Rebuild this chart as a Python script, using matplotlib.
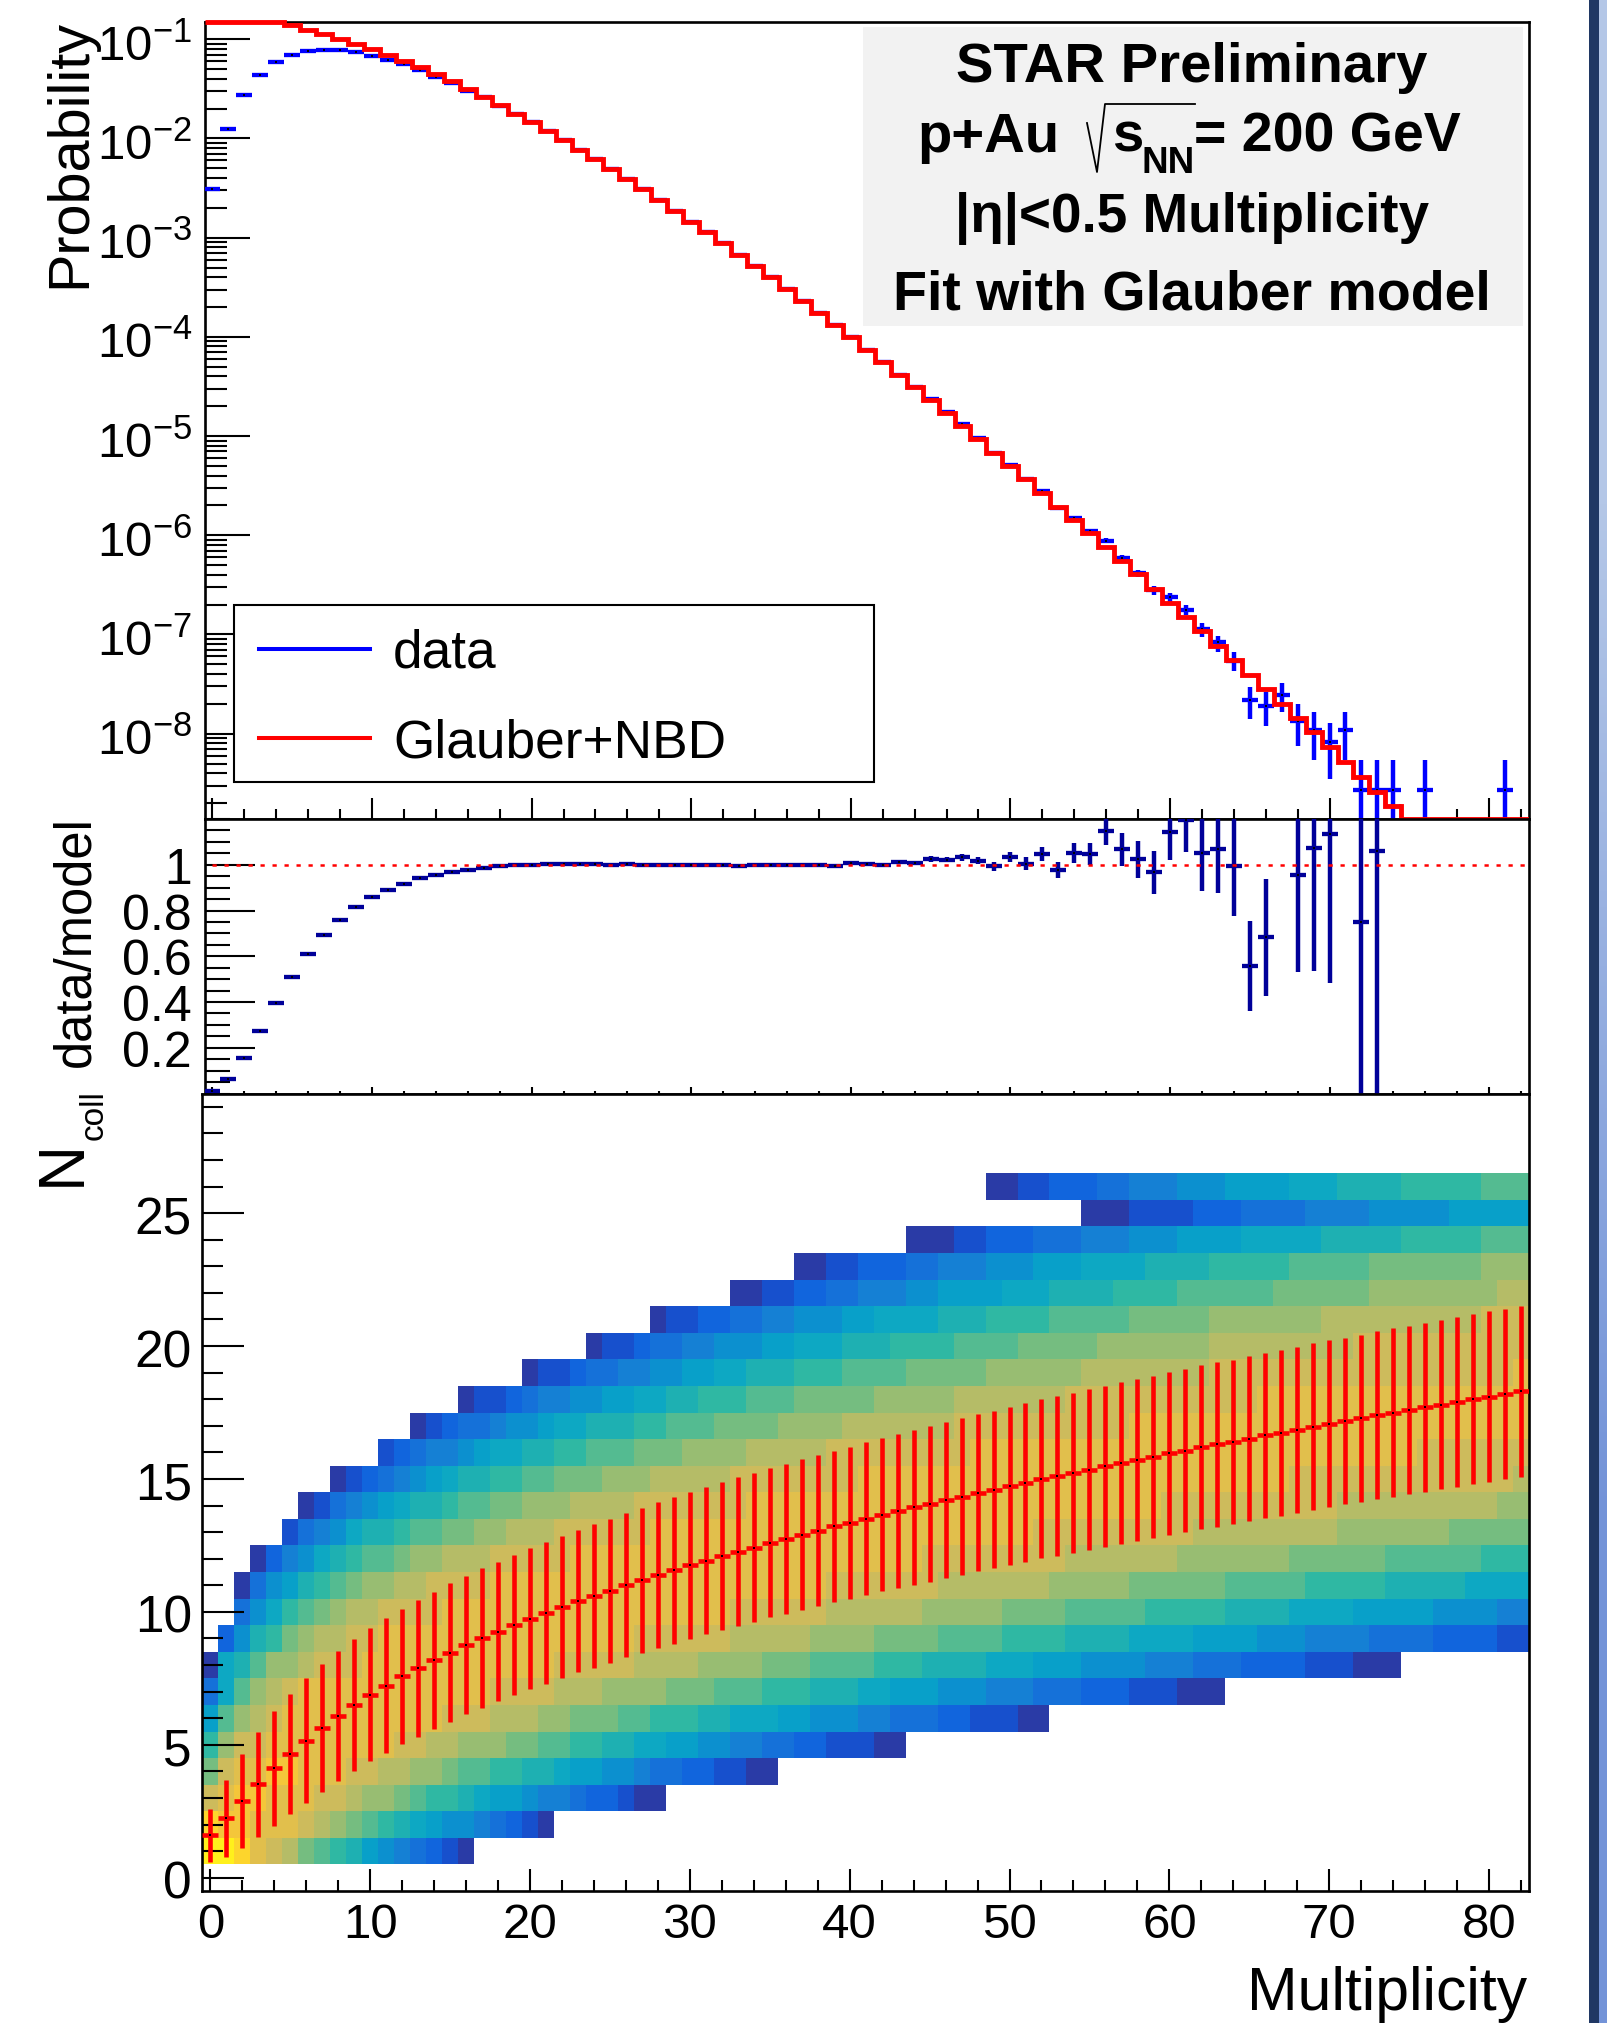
import numpy as np
import matplotlib
matplotlib.use('Agg')
import matplotlib.pyplot as plt
from matplotlib.colors import ListedColormap, LinearSegmentedColormap
from matplotlib.lines import Line2D
from matplotlib.patches import Rectangle
from matplotlib.ticker import LogLocator, MultipleLocator, NullFormatter
from matplotlib.transforms import ScaledTranslation

plt.rcParams['font.family'] = ['Liberation Sans', 'DejaVu Sans']
plt.rcParams['mathtext.fontset'] = 'custom'
plt.rcParams['mathtext.rm'] = 'Liberation Sans'
plt.rcParams['mathtext.bf'] = 'Liberation Sans:bold'

W, H = 1608, 2023

nan = float('nan')

# log10 of probability, one per multiplicity bin 0..82
data_log = [-2.51, -1.904, -1.56, -1.357, -1.232, -1.158, -1.118, -1.108, -1.111, -1.131,
            -1.165, -1.206, -1.252, -1.313, -1.377, -1.444, -1.518, -1.585, -1.669, -1.752,
            -1.838, -1.922, -2.018, -2.113, -2.21, -2.31, -2.41, -2.513, -2.62, -2.728,
            -2.84, -2.946, -3.056, -3.171, -3.29, -3.40, -3.52, -3.635, -3.756, -3.88,
            -4.004, -4.132, -4.253, -4.38, -4.506, -4.625, -4.755, -4.881, -5.021, -5.17,
            -5.287, -5.434, -5.551, -5.722, -5.824, -5.96, -6.055, -6.228, -6.383, -6.552,
            -6.627, -6.753, -6.94, -7.08, -7.271, -7.66, -7.717, -7.609, -7.869, -7.959,
            -8.085, -7.959, -8.563, -8.563, -8.563, nan, -8.563, nan, nan, nan,
            nan, -8.563, nan]

# error bar ends for bins 50..82 (log10), -10 means down to the axis
data_hi_log = [-5.276, -5.422, -5.538, -5.706, -5.806, -5.939, -6.032, -6.198, -6.348, -6.508,
               -6.58, -6.699, -6.886, -7.016, -7.181, -7.53, -7.581, -7.487, -7.703, -7.786,
               -7.89, -7.786, -8.265, -8.265, -8.265, nan, -8.265, nan, nan, nan,
               nan, -8.265, nan]
data_lo_log = [-5.296, -5.446, -5.564, -5.738, -5.842, -5.981, -6.078, -6.258, -6.418, -6.598,
               -6.674, -6.803, -7.023, -7.174, -7.372, -7.847, -7.926, -7.782, -8.121, -8.261,
               -8.455, -8.261, -10, -10, -10, nan, -10, nan, nan, nan,
               nan, -10, nan]

model_log = [-0.62, -0.70, -0.75, -0.79, -0.81, -0.856, -0.906, -0.947, -0.994, -1.044,
             -1.095, -1.155, -1.219, -1.282, -1.347, -1.42, -1.498, -1.579, -1.666, -1.75,
             -1.837, -1.921, -2.018, -2.113, -2.21, -2.31, -2.41, -2.513, -2.62, -2.728,
             -2.84, -2.946, -3.056, -3.171, -3.29, -3.40, -3.52, -3.635, -3.756, -3.88,
             -4.004, -4.132, -4.253, -4.384, -4.509, -4.636, -4.764, -4.895, -5.029, -5.167,
             -5.301, -5.436, -5.571, -5.712, -5.846, -5.98, -6.115, -6.256, -6.393, -6.537,
             -6.681, -6.825, -6.969, -7.113, -7.257, -7.408, -7.552, -7.696, -7.84, -7.988,
             -8.135, -8.286, -8.434, -8.585, -8.733]

ratio = [0.013, 0.063, 0.155, 0.273, 0.395, 0.51, 0.61, 0.692, 0.76, 0.815,
         0.857, 0.891, 0.917, 0.94, 0.956, 0.969, 0.978, 0.987, 0.993, 0.997,
         0.9985, 1.0015, 1.0015, 1.003, 1.0015, 1.0, 1.0015, 0.997, 0.9985, 0.9985,
         0.9985, 0.9985, 0.997, 0.996, 0.9985, 1.0, 1.0, 1.0, 0.9985, 0.993,
         1.006, 1.0015, 1.0, 1.01, 1.007, 1.025, 1.022, 1.032, 1.018, 0.993,
         1.033, 1.005, 1.047, 0.977, 1.051, 1.047, 1.147, 1.067, 1.023, 0.967,
         1.142, 1.197, 1.05, 1.07, 0.995, 0.557, 0.682, nan, 0.956, 1.073,
         1.133, nan, 0.75, 1.058]
# error for bins 43..73, the ones before are thinner than the marker
ratio_err = [0.005, 0.006, 0.012, 0.012, 0.015, 0.016, 0.02, 0.023, 0.028, 0.031,
             0.036, 0.044, 0.05, 0.06, 0.073, 0.082, 0.095, 0.123, 0.14, 0.164,
             0.193, 0.22, 0.196, 0.256, nan, 0.427, 0.537, 0.652, nan, 0.75,
             1.06]

ncoll_mean = [1.59, 2.24, 2.89, 3.52, 4.11, 4.65, 5.16, 5.64, 6.08, 6.49,
              6.88, 7.23, 7.57, 7.88, 8.18, 8.47, 8.75, 9.01, 9.26, 9.51,
              9.74, 9.96, 10.19, 10.4, 10.6, 10.8, 11.0, 11.19, 11.38, 11.56,
              11.75, 11.92, 12.10, 12.27, 12.42, 12.60, 12.75, 12.91, 13.06, 13.22,
              13.36, 13.51, 13.65, 13.79, 13.93, 14.06, 14.20, 14.34, 14.48, 14.60,
              14.74, 14.86, 15.0, 15.12, 15.23, 15.35, 15.48, 15.60, 15.71, 15.83,
              15.96, 16.06, 16.19, 16.30, 16.40, 16.52, 16.64, 16.73, 16.85, 16.97,
              17.07, 17.18, 17.28, 17.39, 17.50, 17.60, 17.70, 17.80, 17.90, 18.0,
              18.10, 18.20, 18.30]
ncoll_sd = [1.0, 1.45, 1.77, 1.98, 2.15, 2.26, 2.34, 2.40, 2.44, 2.48,
            2.50, 2.53, 2.55, 2.57, 2.58, 2.60, 2.61, 2.63, 2.63, 2.64,
            2.66, 2.66, 2.68, 2.68, 2.70, 2.71, 2.71, 2.73, 2.74, 2.75,
            2.76, 2.77, 2.78, 2.79, 2.80, 2.81, 2.83, 2.84, 2.85, 2.85,
            2.86, 2.87, 2.88, 2.89, 2.91, 2.92, 2.93, 2.94, 2.95, 2.96,
            2.97, 2.98, 2.99, 3.0, 3.01, 3.02, 3.03, 3.04, 3.04, 3.05,
            3.06, 3.07, 3.08, 3.09, 3.09, 3.10, 3.11, 3.12, 3.12, 3.13,
            3.14, 3.14, 3.15, 3.16, 3.16, 3.17, 3.18, 3.18, 3.19, 3.19,
            3.20, 3.20, 3.21]

# colour levels of the 2d histogram, low to high
palette = ['#2a3ba6', '#1750cd', '#1165dd', '#1571d9', '#1580d4', '#0c90cf', '#08a0c9',
           '#0da8c3', '#1eb0b2', '#2fb8a3', '#54bb91', '#75bd80', '#98bd72', '#b5bc67',
           '#cdbb5c', '#e1bf4c', '#f4c63a', '#fdd52c', '#fff01c']

# each Ncoll row: (first multiplicity bin, level) for every run of equal colour
row_01 = [(0, 18), (2, 17), (3, 15), (4, 14), (5, 13), (6, 11), (7, 10), (8, 9), (9, 8), (10, 6),
          (11, 5), (12, 4), (13, 3), (14, 2), (15, 1), (16, 0)]
row_02 = [(0, 17), (1, 16), (3, 15), (6, 14), (7, 13), (8, 12), (9, 11), (10, 10), (11, 9), (12, 8),
          (13, 7), (14, 6), (15, 5), (17, 4), (18, 3), (19, 2), (20, 1), (21, 0)]
row_03 = [(0, 14), (1, 15), (2, 16), (4, 15), (7, 14), (9, 13), (10, 12), (12, 11), (13, 10), (14, 9),
          (16, 8), (17, 7), (18, 6), (20, 5), (21, 4), (23, 3), (24, 2), (26, 1), (27, 0)]
row_04 = [(0, 11), (1, 14), (2, 15), (4, 16), (6, 15), (9, 14), (11, 13), (13, 12), (15, 11), (16, 10),
          (18, 9), (20, 8), (22, 7), (23, 6), (25, 5), (27, 4), (28, 3), (30, 2), (32, 1), (34, 0)]
row_05 = [(0, 9), (1, 12), (2, 14), (4, 15), (12, 14), (14, 13), (16, 12), (19, 11), (21, 10), (23, 9),
          (25, 8), (27, 7), (29, 6), (31, 5), (33, 4), (35, 3), (37, 2), (39, 1), (42, 0)]
row_06 = [(0, 6), (1, 10), (2, 12), (3, 13), (4, 14), (5, 15), (15, 14), (18, 13), (21, 12), (23, 11),
          (26, 10), (28, 9), (31, 8), (33, 7), (36, 6), (38, 5), (41, 4), (43, 3), (46, 2), (48, 1), (51, 0)]
row_07 = [(0, 3), (1, 7), (2, 10), (3, 12), (4, 13), (5, 14), (6, 15), (18, 14), (22, 13), (25, 12),
          (29, 11), (32, 10), (35, 9), (38, 8), (41, 7), (43, 6), (46, 5), (49, 4), (52, 3), (55, 2),
          (58, 1), (61, 0)]
row_08 = [(0, 0), (1, 7), (2, 8), (3, 10), (4, 12), (6, 13), (7, 14), (10, 15), (22, 14), (27, 13),
          (31, 12), (35, 11), (38, 10), (42, 9), (45, 8), (49, 7), (52, 6), (55, 5), (59, 4), (62, 3),
          (65, 2), (69, 1), (72, 0)]
row_09 = [(1, 2), (2, 5), (3, 8), (4, 9), (5, 11), (6, 12), (7, 13), (9, 14), (11, 15), (27, 14),
          (33, 13), (38, 12), (42, 11), (46, 10), (50, 9), (54, 8), (58, 7), (62, 6), (66, 5), (69, 4),
          (73, 3), (77, 2), (81, 1)]
row_10 = [(2, 3), (3, 5), (4, 7), (5, 9), (6, 10), (7, 11), (8, 12), (9, 13), (11, 14), (15, 15),
          (33, 14), (39, 13), (45, 12), (50, 11), (54, 10), (59, 9), (64, 8), (68, 7), (72, 6), (77, 5),
          (81, 4)]
row_11 = [(2, 0), (3, 3), (4, 5), (5, 6), (6, 8), (7, 9), (8, 10), (9, 11), (10, 12), (12, 13),
          (14, 14), (18, 15), (39, 14), (46, 13), (53, 12), (58, 11), (64, 10), (69, 9), (74, 8), (79, 7)]
row_12 = [(3, 0), (4, 2), (5, 4), (6, 5), (7, 7), (8, 8), (9, 9), (10, 10), (12, 11), (13, 12),
          (15, 13), (18, 14), (23, 15), (45, 14), (54, 13), (61, 12), (68, 11), (74, 10), (80, 9)]
row_13 = [(5, 1), (6, 3), (7, 4), (8, 5), (9, 7), (10, 8), (12, 9), (13, 10), (15, 11), (17, 12),
          (19, 13), (22, 14), (28, 15), (52, 14), (62, 13), (71, 12), (78, 11)]
row_14 = [(6, 0), (7, 1), (8, 3), (9, 4), (10, 5), (11, 6), (12, 7), (13, 8), (15, 9), (16, 10),
          (18, 11), (20, 12), (23, 13), (27, 14), (34, 15), (60, 14), (71, 13), (81, 12)]
row_15 = [(8, 0), (9, 1), (10, 2), (11, 3), (12, 4), (13, 5), (14, 6), (15, 7), (16, 8), (18, 9),
          (20, 10), (22, 11), (25, 12), (28, 13), (33, 14), (41, 15), (68, 14), (82, 13)]
row_16 = [(11, 1), (12, 2), (13, 3), (14, 4), (16, 5), (17, 6), (18, 7), (20, 8), (22, 9), (24, 10),
          (27, 11), (30, 12), (34, 13), (39, 14), (48, 15), (76, 14)]
row_17 = [(13, 0), (14, 1), (15, 2), (16, 3), (18, 4), (19, 5), (21, 6), (22, 7), (24, 8), (27, 9),
          (29, 10), (32, 11), (36, 12), (40, 13), (47, 14), (58, 15)]
row_18 = [(16, 0), (17, 1), (19, 2), (20, 3), (21, 4), (23, 5), (25, 6), (27, 7), (29, 8), (31, 9),
          (34, 10), (37, 11), (42, 12), (47, 13), (54, 14), (66, 15)]
row_19 = [(20, 0), (21, 1), (23, 2), (24, 3), (26, 4), (28, 5), (30, 6), (32, 7), (34, 8), (37, 9),
          (40, 10), (44, 11), (49, 12), (55, 13), (63, 14), (82, 15)]
row_20 = [(24, 0), (25, 1), (27, 2), (28, 3), (30, 4), (32, 5), (35, 6), (37, 7), (40, 8), (43, 9),
          (47, 10), (51, 11), (56, 12), (63, 13), (72, 14)]
row_21 = [(28, 0), (29, 1), (31, 2), (33, 3), (35, 4), (37, 5), (40, 6), (42, 7), (46, 8), (49, 9),
          (53, 10), (58, 11), (63, 12), (70, 13), (80, 14)]
row_22 = [(33, 0), (35, 1), (37, 2), (39, 3), (41, 4), (44, 5), (46, 6), (50, 7), (53, 8), (57, 9),
          (61, 10), (67, 11), (73, 12), (81, 13)]
row_23 = [(37, 0), (39, 1), (41, 2), (44, 3), (46, 4), (49, 5), (52, 6), (55, 7), (59, 8), (63, 9),
          (68, 10), (73, 11), (80, 12)]
row_24 = [(44, 0), (47, 1), (49, 2), (52, 3), (55, 4), (58, 5), (61, 6), (65, 7), (70, 8), (75, 9),
          (80, 10)]
row_25 = [(55, 0), (58, 1), (62, 2), (65, 3), (69, 4), (73, 5), (78, 6)]
row_26 = [(49, 0), (51, 1), (53, 2), (56, 3), (58, 4), (61, 5), (64, 6), (68, 7), (71, 8), (75, 9),
          (80, 10)]
rows = [row_01, row_02, row_03, row_04, row_05, row_06, row_07, row_08, row_09, row_10, row_11, row_12, row_13,
        row_14, row_15, row_16, row_17, row_18, row_19, row_20, row_21, row_22, row_23, row_24, row_25, row_26]
row_last_bin = [16, 21, 28, 35, 43, 52, 63, 74] + [82] * 18

n_bins = 83
xs = np.arange(n_bins)
edges = np.arange(n_bins + 1) - 0.5


def px_axes(left, top, right, bottom):
    return fig.add_axes([left / W, 1 - bottom / H, (right - left) / W, (bottom - top) / H])


def fx(x):
    return x / W


def fy(y):
    return 1 - y / H


def style_ticks(ax, ymaj, ymin, xmaj, xmin, lab):
    for spine in ax.spines.values():
        spine.set_linewidth(1.9)
    ax.tick_params(axis='y', which='major', direction='in', length=ymaj, width=1.5, labelsize=lab, pad=9, left=True, right=False)
    ax.tick_params(axis='y', which='minor', direction='in', length=ymin, width=1.5, left=True, right=False)
    ax.tick_params(axis='x', which='major', direction='in', length=xmaj, width=1.5, top=False)
    ax.tick_params(axis='x', which='minor', direction='in', length=xmin, width=1.5, top=False)
    ax.set_xlim(-0.5, 82.5)
    ax.xaxis.set_major_locator(MultipleLocator(10))
    ax.xaxis.set_minor_locator(MultipleLocator(2))


def nudge_ylabels(ax, dx_px, dy_px):
    shift = ScaledTranslation(dx_px / 100, dy_px / 100, fig.dpi_scale_trans)
    for lab in ax.get_yticklabels():
        lab.set_transform(lab.get_transform() + shift)


fig = plt.figure(figsize=(W / 100, H / 100), dpi=100, facecolor='white')

# top panel
ax1 = px_axes(204.5, 22, 1529, 819)
y_top = 10 ** -0.826
y_bot = 10 ** -8.86
ax1.set_yscale('log')
ax1.set_ylim(y_bot, y_top)
style_ticks(ax1, 32.4, 16, 15, 7.2, 35.5)
ax1.set_yticks([10.0 ** -k for k in range(1, 9)])
ax1.set_yticklabels([r'$\mathregular{10^{-%d}}$' % k for k in range(1, 9)])
ax1.yaxis.set_minor_locator(LogLocator(base=10, subs=(2, 3, 4, 5, 6, 7, 8, 9), numticks=20))
ax1.yaxis.set_minor_formatter(NullFormatter())
ax1.tick_params(axis='x', labelbottom=False)
nudge_ylabels(ax1, 0, -3)

data = 10 ** np.array(data_log)
ax1.hlines(data, xs - 0.5, xs + 0.5, color='#0000ff', lw=3.1, zorder=3)
ax1.vlines(xs[50:], 10 ** np.array(data_lo_log), 10 ** np.array(data_hi_log), color='#0000ff', lw=3.2, zorder=3)
ax1.plot(xs, data, 's', color='black', ms=1.5, mew=0, zorder=3.1)

model = np.minimum(10 ** np.array(model_log), y_top)
ax1.stairs(model, edges[:len(model) + 1], baseline=None, color='#ff0000', lw=3.5, zorder=4, clip_on=False, joinstyle='miter')
ax1.plot([edges[len(model)], edges[len(model)], 82.5], [model[-1], y_bot, y_bot], color='#ff0000', lw=3.5, zorder=4)

# ratio panel
ax2 = px_axes(204.5, 819, 1529, 1093.5)
ax2.set_ylim(0, 1.2)
style_ticks(ax2, 36, 18, 5, 2.5, 36)
ax2.set_yticks([0.2, 0.4, 0.6, 0.8, 1.0])
ax2.set_yticklabels(['0.2', '0.4', '0.6', '0.8', '1'])
ax2.yaxis.set_minor_locator(MultipleLocator(0.05))
ax2.tick_params(axis='x', labelbottom=False)
nudge_ylabels(ax2, 0, -1)

ratio_y = np.array(ratio)
ratio_x = xs[:len(ratio)]
ax2.hlines(ratio_y, ratio_x - 0.5, ratio_x + 0.5, color='#000099', lw=3.1, zorder=3)
ax2.vlines(ratio_x[43:], ratio_y[43:] - np.array(ratio_err), ratio_y[43:] + np.array(ratio_err), color='#000099', lw=3.2, zorder=3)
ax2.plot(ratio_x, ratio_y, 's', color='black', ms=1.5, mew=0, zorder=3.1)
ax2.plot([0, 82.5], [1, 1], color='#ff0000', lw=1.8, ls=(0, (1.7, 3.1)), zorder=4)

# Ncoll panel
ax3 = px_axes(202.3, 1093.5, 1529, 1891)
ax3.set_ylim(-0.5, 29.5)
style_ticks(ax3, 30, 15, 16, 8, 37)
ax3.set_yticks([0, 5, 10, 15, 20, 25])
ax3.yaxis.set_minor_locator(MultipleLocator(1))
ax3.tick_params(axis='x', labelsize=35.5, pad=9)
ax3.set_xticks([0, 10, 20, 30, 40, 50, 60, 70, 80])
nudge_ylabels(ax3, 2, -2)

heat = np.full((len(rows), n_bins), nan)
for i, row in enumerate(rows):
    for j, (start, level) in enumerate(row):
        stop = row[j + 1][0] if j + 1 < len(row) else row_last_bin[i] + 1
        heat[i, start:stop] = level
y_edges = np.arange(len(rows) + 1) + 0.5
ax3.pcolormesh(edges, y_edges, np.ma.masked_invalid(heat), cmap=ListedColormap(palette),
               vmin=-0.5, vmax=len(palette) - 0.5, shading='flat', antialiased=False, zorder=1)

ax3.errorbar(xs, ncoll_mean, yerr=ncoll_sd, xerr=0.5, fmt='none', ecolor='#ff0000', elinewidth=3.3, capsize=0, zorder=3)
ax3.plot(xs, ncoll_mean, 's', color='black', ms=1.5, mew=0, zorder=3.1)

# axis titles
fig.text(fx(70), fy(19), 'Probability', rotation=90, ha='center', va='top', fontsize=41.5)
fig.text(fx(76), fy(816), 'data/model', rotation=90, ha='center', va='top', fontsize=36.5)
fig.text(fx(63), fy(1186), 'N', rotation=90, ha='center', va='bottom', fontsize=46)
fig.text(fx(94), fy(1140), 'coll', rotation=90, ha='center', va='bottom', fontsize=24)
fig.text(fx(1527), fy(2010), 'Multiplicity', ha='right', va='baseline', fontsize=43.7)

# text box
fig.add_artist(Rectangle((fx(863), fy(326)), 660 / W, 299 / H, transform=fig.transFigure, facecolor='#f2f2f2', edgecolor='none', zorder=1))
fig.text(fx(1192), fy(81.7), 'STAR Preliminary', ha='center', va='baseline', fontsize=40.5, fontweight='bold')
fig.text(fx(917), fy(152), 'p+Au', ha='left', va='baseline', fontsize=40.5, fontweight='bold')
fig.text(fx(1112), fy(152), 's', ha='left', va='baseline', fontsize=40.5, fontweight='bold')
fig.text(fx(1142), fy(173), 'NN', ha='left', va='baseline', fontsize=26.5, fontweight='bold')
fig.text(fx(1194), fy(152), '= 200 GeV', ha='left', va='baseline', fontsize=40, fontweight='bold')
fig.add_artist(Line2D([fx(1087), fx(1097), fx(1105), fx(1195)], [fy(123), fy(172), fy(104), fy(104)],
                      transform=fig.transFigure, color='black', lw=1.3, zorder=3))
fig.text(fx(1192), fy(231.7), '|η|<0.5 Multiplicity', ha='center', va='baseline', fontsize=39.5, fontweight='bold')
fig.text(fx(1192), fy(309), 'Fit with Glauber model', ha='center', va='baseline', fontsize=40, fontweight='bold')

# legend
fig.add_artist(Rectangle((fx(234), fy(782)), 640 / W, 177.3 / H, transform=fig.transFigure, facecolor='white', edgecolor='black', lw=1.5, zorder=1))
for y, color, label in [(649, '#0000ff', 'data'), (738, '#ff0000', 'Glauber+NBD')]:
    fig.add_artist(Line2D([fx(259), fx(370)], [fy(y), fy(y)], transform=fig.transFigure, color=color, lw=2.9, zorder=2))
    fig.text(fx(393), fy(y + 19), label, ha='left', va='baseline', fontsize=38.3)

# slide edge on the right
ax_s = px_axes(1589, 0, 1599, H)
ax_s.axis('off')
ax_s.add_patch(Rectangle((0, 0), 1, 1, transform=ax_s.transAxes, facecolor='#203864', edgecolor='none'))
ax_g = px_axes(1599, 0, 1608, H)
ax_g.axis('off')
ax_g.imshow([[0.0], [1.0]], aspect='auto', cmap=LinearSegmentedColormap.from_list('edge', ['#b4c7e7', '#7393d8']), interpolation='bilinear')

fig.savefig('out.png', dpi=100)
